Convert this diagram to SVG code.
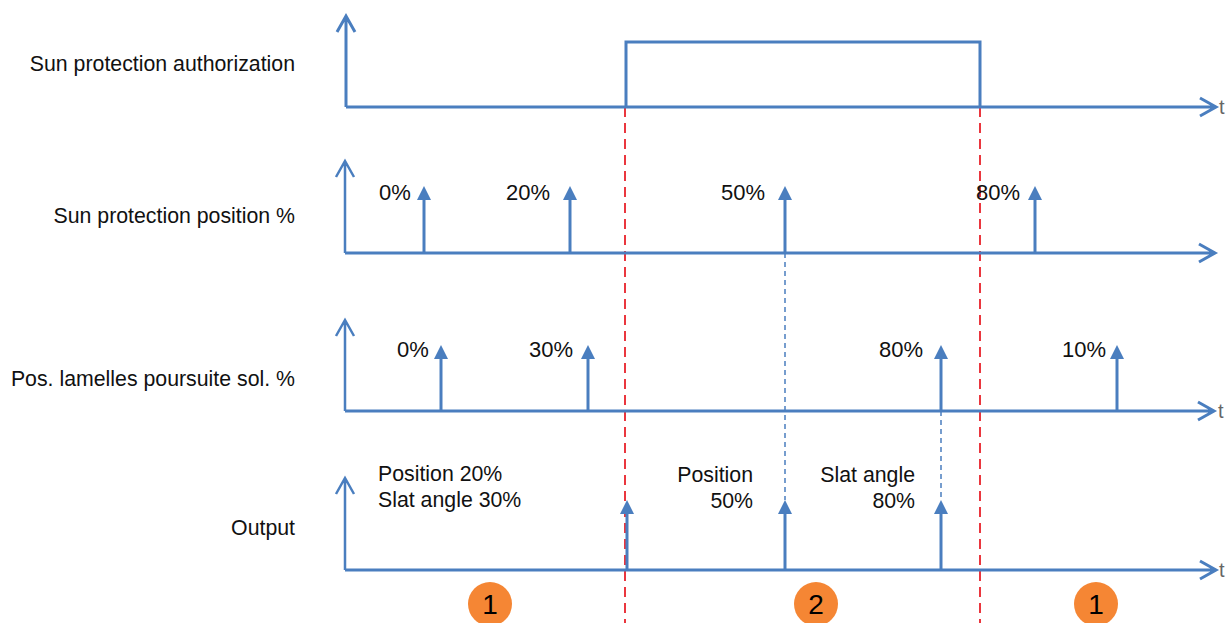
<svg xmlns="http://www.w3.org/2000/svg" width="1229" height="623" viewBox="0 0 1229 623">
<defs>
<style>
.ax{fill:none;stroke:#4a7ebf;stroke-width:3}
.axl{fill:none;stroke:#4a7ebf;stroke-width:2.5}
.imp{stroke:#4a7ebf;stroke-width:3;fill:none}
.head{fill:#4a7ebf}
.red{stroke:#e8222a;stroke-width:1.8;stroke-dasharray:10 6;fill:none}
.bd{stroke:#4a7ebf;stroke-width:1.5;stroke-dasharray:5 4;fill:none}
text{font-family:"Liberation Sans",Arial,Helvetica,sans-serif;font-size:21.3px;fill:#111}
.lab{text-anchor:end}
.pct{font-size:22px}
.t{fill:#666;font-size:20px}
.num{font-size:28px;text-anchor:middle;fill:#000}
.circ{fill:#f58634}
</style>
</defs>
<g id="labels">
<text class="lab" x="295" y="71">Sun protection authorization</text>
<text class="lab" x="295" y="223">Sun protection position %</text>
<text class="lab" x="295" y="386">Pos. lamelles poursuite sol. %</text>
<text class="lab" x="295" y="535">Output</text>
</g>
<g id="connectors">
<line class="red" x1="625" y1="107" x2="625" y2="623"/>
<line class="red" x1="980" y1="107" x2="980" y2="623"/>
<line class="bd" x1="785" y1="253" x2="785" y2="500"/>
<line class="bd" x1="941" y1="411" x2="941" y2="500"/>
</g>
<g id="row1">
<path class="ax" d="M346 107 V16 M337 32 L346 16 L355 32"/>
<path class="ax" d="M346 107 H1216 M1200 98 L1216 107 L1200 116"/>
<path class="ax" d="M626 107 V42 H980 V107"/>
<text class="t" x="1219" y="114">t</text>
</g>
<g id="row2">
<path class="axl" d="M345 253 V161 M336 177 L345 161 L354 177"/>
<path class="ax" d="M345 253 H1215 M1199 244 L1215 253 L1199 262"/>
<line class="imp" x1="424" y1="253" x2="424" y2="198"/><path class="head" d="M417 200 L424 186 L431 200Z"/>
<line class="imp" x1="570" y1="253" x2="570" y2="198"/><path class="head" d="M563 200 L570 186 L577 200Z"/>
<line class="imp" x1="785" y1="253" x2="785" y2="198"/><path class="head" d="M778 200 L785 186 L792 200Z"/>
<line class="imp" x1="1035" y1="253" x2="1035" y2="198"/><path class="head" d="M1028 200 L1035 186 L1042 200Z"/>
<text class="pct" x="379" y="200">0%</text>
<text class="pct" x="506" y="200">20%</text>
<text class="pct" x="721" y="200">50%</text>
<text class="pct" x="976" y="200">80%</text>
</g>
<g id="row3">
<path class="axl" d="M345 411 V320 M336 336 L345 320 L354 336"/>
<path class="ax" d="M345 411 H1214 M1198 402 L1214 411 L1198 420"/>
<line class="imp" x1="441" y1="411" x2="441" y2="357"/><path class="head" d="M434 359 L441 345 L448 359Z"/>
<line class="imp" x1="588" y1="411" x2="588" y2="357"/><path class="head" d="M581 359 L588 345 L595 359Z"/>
<line class="imp" x1="941" y1="411" x2="941" y2="357"/><path class="head" d="M934 359 L941 345 L948 359Z"/>
<line class="imp" x1="1117" y1="411" x2="1117" y2="357"/><path class="head" d="M1110 359 L1117 345 L1124 359Z"/>
<text class="pct" x="397" y="357">0%</text>
<text class="pct" x="529" y="357">30%</text>
<text class="pct" x="879" y="357">80%</text>
<text class="pct" x="1062" y="357">10%</text>
<text class="t" x="1218" y="418">t</text>
</g>
<g id="row4">
<path class="axl" d="M345 570 V478 M336 494 L345 478 L354 494"/>
<path class="ax" d="M345 570 H1216 M1200 561 L1216 570 L1200 579"/>
<line class="imp" x1="627" y1="570" x2="627" y2="512"/><path class="head" d="M620 514 L627 500 L634 514Z"/>
<line class="imp" x1="785" y1="570" x2="785" y2="512"/><path class="head" d="M778 514 L785 500 L792 514Z"/>
<line class="imp" x1="941" y1="570" x2="941" y2="512"/><path class="head" d="M934 514 L941 500 L948 514Z"/>
<text x="378" y="481">Position 20%</text>
<text x="378" y="507">Slat angle 30%</text>
<text class="lab" x="753" y="482">Position</text>
<text class="lab" x="753" y="508">50%</text>
<text class="lab" x="915" y="482">Slat angle</text>
<text class="lab" x="915" y="508">80%</text>
<text class="t" x="1219" y="577">t</text>
</g>
<g id="phase1a"><circle class="circ" cx="490" cy="604" r="22"/><text class="num" x="490" y="614">1</text></g>
<g id="phase2"><circle class="circ" cx="816" cy="604" r="22"/><text class="num" x="816" y="614">2</text></g>
<g id="phase1b"><circle class="circ" cx="1096" cy="604" r="22"/><text class="num" x="1096" y="614">1</text></g>
</svg>
